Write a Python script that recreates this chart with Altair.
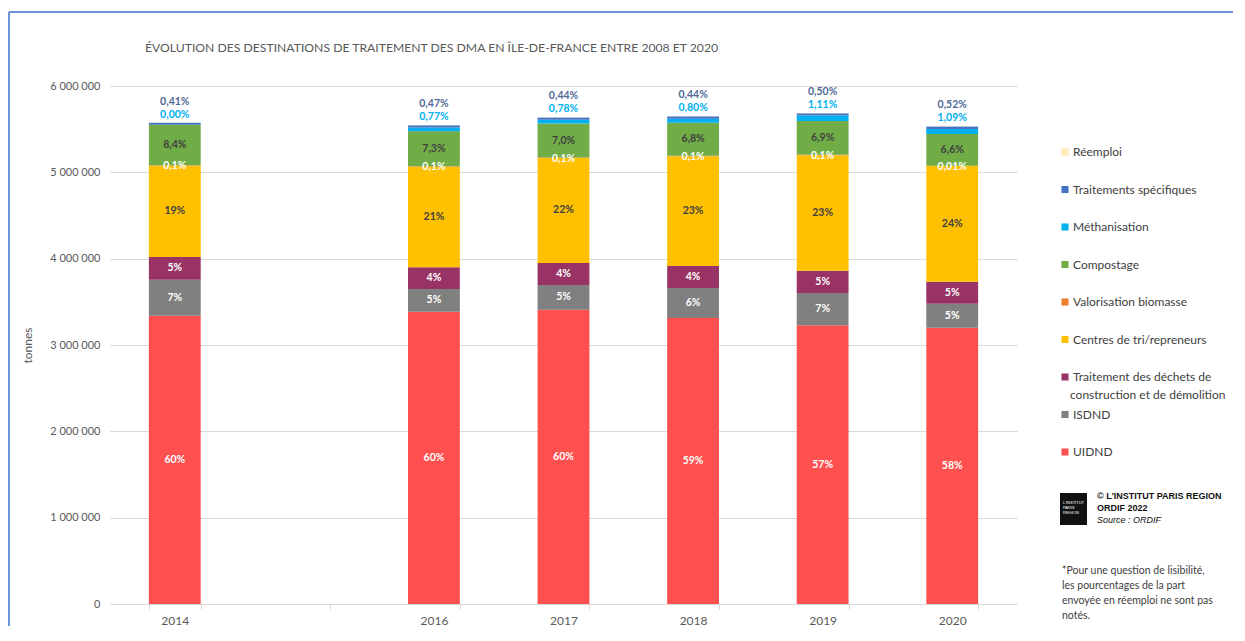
import altair as alt
import pandas as pd

# ---------------- data ----------------
years = ["2014", "2016", "2017", "2018", "2019", "2020"]
year_domain = ["2014", "2015", "2016", "2017", "2018", "2019", "2020"]

# stacking order, bottom -> top
categories = [
    "UIDND",
    "ISDND",
    "Traitement des déchets de construction et de démolition",
    "Centres de tri/repreneurs",
    "Valorisation biomasse",
    "Compostage",
    "Méthanisation",
    "Traitements spécifiques",
    "Réemploi",
]
cat_colors = [
    "#FF5050",  # UIDND
    "#808080",  # ISDND
    "#993366",  # TDCD
    "#FFC000",  # Centres de tri
    "#ED7D31",  # Valorisation biomasse
    "#70AD47",  # Compostage
    "#00B0F0",  # Méthanisation
    "#4472C4",  # Traitements spécifiques
    "#FFE9B8",  # Réemploi
]

# tonnes
uidnd = [3339000, 3386000, 3409000, 3313000, 3228000, 3200000]
isdnd = [417000, 263000, 286000, 347000, 374000, 278000]
tdcd = [263000, 251000, 255000, 255000, 259000, 255000]
centres = [1058000, 1165000, 1216000, 1271000, 1336000, 1344000]
biomasse = [5600, 5600, 5600, 5600, 5700, 600]
compost = [469000, 406000, 394000, 384000, 392000, 365000]
metha = [0, 43000, 44000, 45000, 63000, 60000]
specif = [23000, 26000, 25000, 25000, 28000, 29000]
reemploi = [2000, 2000, 2000, 2000, 2000, 2000]

lbl_uidnd = ["60%", "60%", "60%", "59%", "57%", "58%"]
lbl_isdnd = ["7%", "5%", "5%", "6%", "7%", "5%"]
lbl_tdcd = ["5%", "4%", "4%", "4%", "5%", "5%"]
lbl_centres = ["19%", "21%", "22%", "23%", "23%", "24%"]
lbl_biomasse = ["0,1%", "0,1%", "0,1%", "0,1%", "0,1%", "0,01%"]
lbl_compost = ["8,4%", "7,3%", "7,0%", "6,8%", "6,9%", "6,6%"]
lbl_metha = ["0,00%", "0,77%", "0,78%", "0,80%", "1,11%", "1,09%"]
lbl_specif = ["0,41%", "0,47%", "0,44%", "0,44%", "0,50%", "0,52%"]
lbl_reemploi = ["", "", "", "", "", ""]

values = [uidnd, isdnd, tdcd, centres, biomasse, compost, metha, specif, reemploi]
labels = [lbl_uidnd, lbl_isdnd, lbl_tdcd, lbl_centres, lbl_biomasse,
          lbl_compost, lbl_metha, lbl_specif, lbl_reemploi]

rows = []
for k, cat in enumerate(categories):
    for i, yr in enumerate(years):
        rows.append({"year": yr, "cat": cat, "value": values[k][i],
                     "ord": k, "label": labels[k][i]})
df = pd.DataFrame(rows)

legend_order = list(reversed(categories))
legend_colors = list(reversed(cat_colors))

FONT = "Lato"
GREY = "#595959"

x_enc = alt.X(
    "year:N",
    scale=alt.Scale(domain=year_domain, paddingInner=0.6, paddingOuter=0.3),
    axis=alt.Axis(
        title=None, labelAngle=0, labelFont=FONT, labelFontSize=12,
        labelColor=GREY, labelPadding=6, tickBand="extent", tickSize=5,
        tickColor="#D9D9D9", domainColor="#D9D9D9", grid=False,
        labelExpr="datum.label == '2015' ? '' : datum.label",
    ),
)

y_axis = alt.Axis(
    title="tonnes", titleFont=FONT, titleFontSize=12, titleFontWeight="normal",
    titleColor=GREY, titleX=-83, titleY=259, titleAngle=-90,
    titleAlign="center", titleBaseline="middle",
    values=[0, 1000000, 2000000, 3000000, 4000000, 5000000, 6000000],
    labelFont=FONT, labelFontSize=11, labelColor=GREY, labelPadding=10,
    ticks=False, domain=False, grid=True, gridColor="#D9D9D9",
    labelExpr="replace(replace(format(datum.value, ','), ',', ' '), ',', ' ')",
)
y_scale = alt.Scale(domain=[0, 6000000], nice=False)

bars = alt.Chart(df).mark_bar().encode(
    x=x_enc,
    y=alt.Y("value:Q", stack="zero", scale=y_scale, axis=y_axis),
    color=alt.Color(
        "cat:N",
        scale=alt.Scale(domain=legend_order, range=legend_colors),
        legend=alt.Legend(
            title=None, orient="none", legendX=949, legendY=60,
            symbolType="square", symbolSize=50, symbolStrokeWidth=0,
            labelFont=FONT, labelFontSize=12, labelColor="#404040",
            labelOffset=2, rowPadding=25.5, labelLimit=300,
            labelExpr="datum.label == 'Traitement des déchets de construction et de démolition' ? 'Traitement des déchets de' : datum.label",
        ),
    ),
    order=alt.Order("ord:Q", sort="ascending"),
)

base = alt.Chart(df).transform_stack(
    stack="value", groupby=["year"],
    sort=[alt.SortField("ord", order="ascending")], as_=["y0", "y1"],
).transform_joinaggregate(
    total="sum(value)", groupby=["year"]
).transform_calculate(
    mid="(datum.y0 + datum.y1) / 2"
)


def lbl_layer(cats, field, color, dy=0):
    return base.transform_filter(
        alt.FieldOneOfPredicate(field="cat", oneOf=cats)
    ).mark_text(
        font=FONT, fontSize=10.5, fontWeight="bold", color=color, dy=dy,
        baseline="middle", align="center",
    ).encode(
        x=x_enc,
        y=alt.Y(f"{field}:Q", scale=y_scale, axis=y_axis),
        text="label:N",
    )


t_white = lbl_layer(["UIDND", "ISDND",
                     "Traitement des déchets de construction et de démolition"],
                    "mid", "#FFFFFF")
t_dark = lbl_layer(["Centres de tri/repreneurs", "Compostage"], "mid", "#404040")
t_bio = lbl_layer(["Valorisation biomasse"], "y1", "#FFFFFF", dy=1)
t_meth = lbl_layer(["Méthanisation"], "total", "#00B0F0", dy=-8)
t_spec = lbl_layer(["Traitements spécifiques"], "total", "#4F6A98", dy=-21)

one = pd.DataFrame({"a": [0]})

title_txt = alt.Chart(one).mark_text(
    text="ÉVOLUTION DES DESTINATIONS DE TRAITEMENT DES DMA EN ÎLE-DE-FRANCE ENTRE 2008 ET 2020",
    font=FONT, fontSize=12.2, color=GREY, align="left", baseline="middle",
).encode(x=alt.value(35), y=alt.value(-38))

legend_line2 = alt.Chart(one).mark_text(
    text="construction et de démolition", font=FONT, fontSize=12,
    color="#404040", align="left", baseline="middle",
).encode(x=alt.value(960), y=alt.value(309))

border_top = alt.Chart(one).mark_rule(color="#6A95D2", strokeWidth=2).encode(
    x=alt.value(-101), x2=alt.value(1125), y=alt.value(-74), y2=alt.value(-74))
border_left = alt.Chart(one).mark_rule(color="#6A95D2", strokeWidth=2).encode(
    x=alt.value(-101), x2=alt.value(-101), y=alt.value(-74), y2=alt.value(540))

logo = alt.Chart(one).mark_rect(color="#111111").encode(
    x=alt.value(950), x2=alt.value(977), y=alt.value(407), y2=alt.value(439))
logo_txt = alt.Chart(one).mark_text(
    text=["L'INSTITUT", "PARIS", "REGION"], font="Liberation Sans",
    fontSize=4, color="#FFFFFF", align="left", baseline="middle", lineHeight=5,
).encode(x=alt.value(953), y=alt.value(417))

src1 = alt.Chart(one).mark_text(
    text=["© L'INSTITUT PARIS REGION", "ORDIF 2022"],
    font="'Liberation Sans', Arial",
    fontSize=9, fontWeight="bold", color="#111111", align="left",
    baseline="middle", lineHeight=12,
).encode(x=alt.value(987), y=alt.value(410))
src2 = alt.Chart(one).mark_text(
    text="Source : ORDIF",
    font="'Liberation Sans', Arial",
    fontSize=9, fontStyle="italic", color="#111111", align="left",
    baseline="middle",
).encode(x=alt.value(987), y=alt.value(434))

footnote = alt.Chart(one).mark_text(
    text=["*Pour une question de lisibilité,", "les pourcentages de la part",
          "envoyée en réemploi ne sont pas", "notés."],
    font=FONT, fontSize=10.5, color="#404040", align="left",
    baseline="middle", lineHeight=15,
).encode(x=alt.value(952), y=alt.value(485))

chart = alt.layer(
    bars, t_white, t_dark, t_bio, t_meth, t_spec,
    title_txt, legend_line2, border_top, border_left, logo, logo_txt,
    src1, src2, footnote,
).properties(
    width=907, height=518,
    autosize=alt.AutoSizeParams(type="none"),
    padding={"left": 102, "top": 78, "right": 216, "bottom": 22},
    view=alt.ViewBackground(stroke=None, strokeWidth=0),
).configure(
    background="#FFFFFF",
    view=alt.ViewConfig(stroke=None, strokeWidth=0),
)

chart.save("out.html", embed_options={"renderer": "svg", "actions": False})
